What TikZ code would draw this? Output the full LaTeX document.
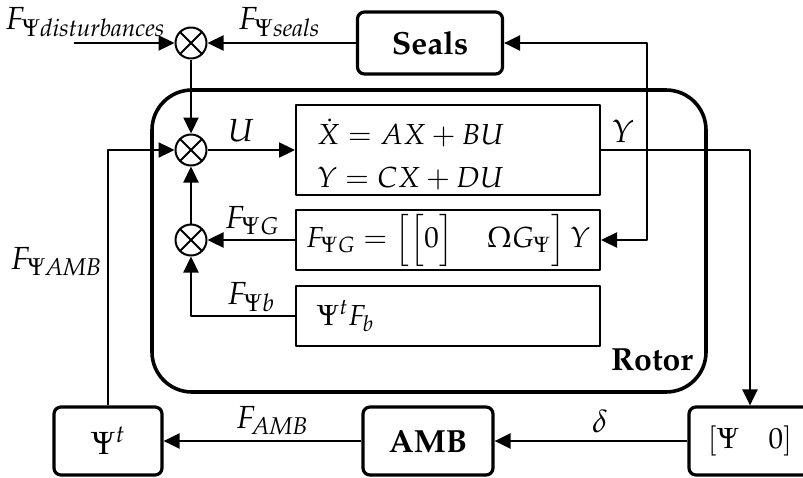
\documentclass[tikz,border=0pt]{standalone}
\usepackage[T1]{fontenc}
\usepackage{mathpazo}
\usetikzlibrary{arrows.meta}

\begin{document}
\begin{tikzpicture}[x=1pt,y=-1pt,line join=round,
  blk/.style={draw,line width=3.2pt,rounded corners=7pt,minimum width=#1,minimum height=68pt,inner sep=0pt,font=\fontsize{32}{38}\selectfont\bfseries},
  eqbox/.style={draw,line width=2pt,minimum width=304pt,minimum height=#1,inner sep=0pt},
  sum/.style={draw,circle,line width=2pt,minimum size=31pt,inner sep=0pt,
    path picture={\draw[line width=2pt] (path picture bounding box.north west) -- (path picture bounding box.south east)
      (path picture bounding box.north east) -- (path picture bounding box.south west);}},
  sig/.style={line width=2.3pt,-{Triangle[length=16pt,width=15pt]}},
  lbl/.style={font=\fontsize{32}{38}\selectfont},
  eq/.style={font=\fontsize{29}{43}\selectfont}]
  \useasboundingbox (0,0) rectangle (803,477);
  \node[sum] (s1) at (191,43) {};
  \node[sum] (s2) at (191,150) {};
  \node[sum] (s3) at (191,240) {};
  \node[blk=145pt,minimum height=62pt] (seals) at (430,43) {Seals};
  \node[draw,line width=3.6pt,rounded corners=40pt,minimum width=554pt,minimum height=302pt] (rotor) at (429,241) {};
  \node[eqbox=90pt,eq,align=left,text width=262pt,inner xsep=21pt] (state) at (448,150) {\rule{0pt}{34pt}$\dot{X}=AX+BU$\\$Y=CX+DU$};
  \node[eqbox=60pt,eq] (fg) at (448,240) {$F_{\Psi G}=\left[\left[0\vphantom{\rule[-16pt]{0pt}{46pt}}\right]\quad\Omega G_{\Psi}\right]Y$};
  \node[eqbox=60pt,eq,align=left,text width=262pt,inner xsep=21pt] (fb) at (448,316) {$\Psi^{t}F_{b}$};
  \node[blk=108pt,font=\fontsize{32}{38}\selectfont] (psit) at (108,441) {$\Psi^{t}$};
  \node[blk=130pt] (amb) at (428,441) {AMB};
  \node[blk=122pt,font=\fontsize{29}{38}\selectfont] (cpsi) at (750,441) {$\left[\Psi\quad 0\right]$};
  \coordinate (dist) at (74,43);
  \coordinate (tap) at (647,150);
  \draw[sig] (dist) -- (s1);
  \draw[sig] (seals) -- (s1);
  \draw[sig] (s1) -- (s2);
  \draw[sig] (s2) -- (state);
  \draw[sig] (state.east) -| (cpsi.north);
  \draw[sig] (tap) |- (seals.east);
  \draw[sig] (tap) |- (fg.east);
  \draw[sig] (fg) -- (s3);
  \draw[sig] (fb.west) -| (s3.south);
  \draw[sig] (s3) -- (s2);
  \draw[sig] (psit.north) |- (s2.west);
  \draw[sig] (amb) -- (psit);
  \draw[sig] (cpsi) -- (amb);
  \node[lbl] (ldist) at (85,22) {$F_{\Psi\mathit{disturbances}}$};
  \node[lbl] (lseals) at (279,22) {$F_{\Psi\mathit{seals}}$};
  \node[lbl] (lu) at (241,131) {$U$};
  \node[lbl] (ly) at (623,131) {$Y$};
  \node[lbl] (lg) at (252,221) {$F_{\Psi G}$};
  \node[lbl] (lb) at (251,297) {$F_{\Psi b}$};
  \node[lbl] (lamb) at (56,262) {$F_{\Psi \mathit{AMB}}$};
  \node[lbl] (lfamb) at (272,421) {$F_{\mathit{AMB}}$};
  \node[lbl] (ldelta) at (600,421) {$\delta$};
  \node[lbl,font=\fontsize{32}{38}\selectfont\bfseries] (lrotor) at (652,360) {Rotor};
\end{tikzpicture}
\end{document}
